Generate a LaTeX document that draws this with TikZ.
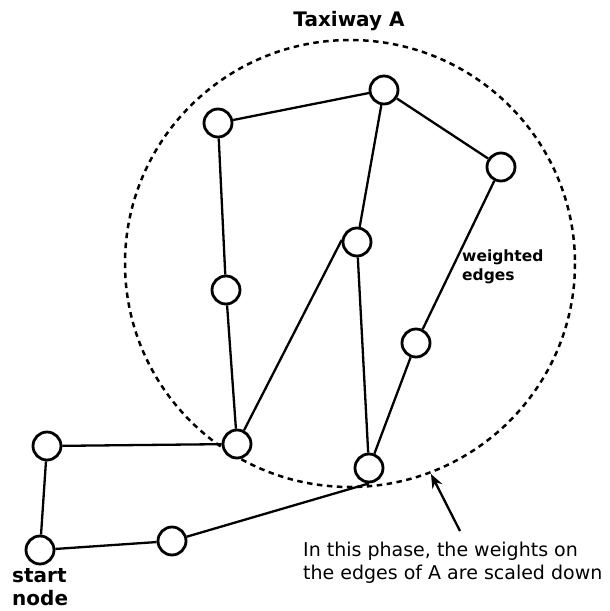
\documentclass[tikz,border=0pt]{standalone}
\usepackage{fontspec}
\setmainfont{DejaVu Sans}
\usetikzlibrary{arrows.meta}

\begin{document}
\begin{tikzpicture}[x=1pt,y=-1pt,>={Stealth[length=14pt,width=11pt]},
  vert/.style={circle,draw,fill=white,line width=2.8pt,minimum size=28pt,inner sep=0pt},
  edge/.style={line width=2.3pt},
  lbl/.style={font=\bfseries\fontsize{20}{23}\selectfont,inner sep=0pt}]
\path[use as bounding box] (0,0) rectangle (610,611);

% taxiway region
\draw[line width=2.5pt,dash pattern=on 5.5pt off 4.5pt] (350,263.5) ellipse [x radius=225,y radius=223.5];
\node[lbl,anchor=base] (title) at (349,26) {Taxiway A};

% vertices
\node[vert] (n1) at (218,123) {};
\node[vert] (n2) at (384,90) {};
\node[vert] (n3) at (501,167) {};
\node[vert] (n4) at (357,242) {};
\node[vert] (n5) at (226,290) {};
\node[vert] (n6) at (416,343) {};
\node[vert] (n7) at (237,444) {};
\node[vert] (n8) at (369,468) {};
\node[vert] (n9) at (47,446) {};
\node[vert] (n10) at (40,550) {};
\node[vert] (n11) at (172,541) {};

% edges
\draw[edge] (n1) -- (n2) -- (n3) -- (n6) -- (n8);
\draw[edge] (n2) -- (n4) -- (n8);
\draw[edge] (n1) -- (n5) -- (n7);
\draw[edge] (n7) -- (n4.172);
\draw[edge] (n7) -- (n9) -- (n10) -- (n11) -- (n8.south);

% labels
\node[font=\bfseries\fontsize{15.5}{19}\selectfont,align=left,anchor=north west,inner sep=0pt] (wlbl) at (462,250) {weighted\\edges};
\node[lbl,align=left,anchor=north west] (start) at (12,568) {start\\node};
\node[font=\fontsize{19}{23}\selectfont,align=left,anchor=north west,inner sep=0pt] (note) at (303,542) {In this phase, the weights on\\the edges of A are scaled down};

% pointer to region
\coordinate (tail) at (460,531);
\coordinate (tip) at (431,474);
\draw[->,line width=2.3pt] (tail) -- (tip);
\end{tikzpicture}
\end{document}
